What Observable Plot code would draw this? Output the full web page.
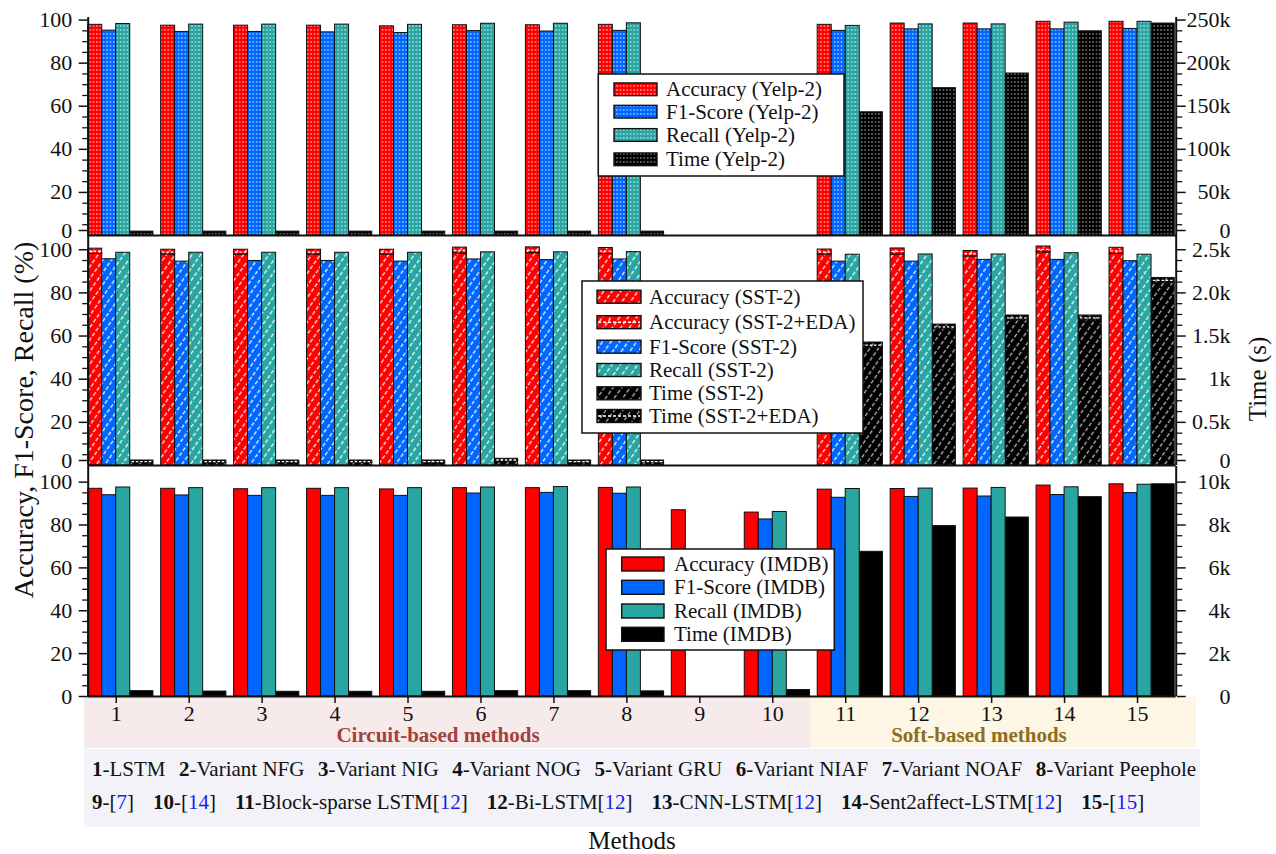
<!DOCTYPE html>
<html>
<head>
<meta charset="utf-8">
<script src="https://cdn.jsdelivr.net/npm/d3@7"></script>
<script src="https://cdn.jsdelivr.net/npm/@observablehq/plot@0.6"></script>
<style>
  body { margin: 0; background: #fff; }
  #root { position: relative; width: 1276px; height: 854px; overflow: hidden; font-family: "Liberation Serif", "Times New Roman", serif; color: #111; }
  #root > svg { position: absolute; left: 0; overflow: visible; }
</style>
</head>
<body>
<div id="root"></div>
<script>
// ---------------- DATA ----------------
const methods = [1, 2, 3, 4, 5, 6, 7, 8, 9, 10, 11, 12, 13, 14, 15];
const methodNames = ["LSTM", "Variant NFG", "Variant NIG", "Variant NOG", "Variant GRU", "Variant NIAF", "Variant NOAF", "Variant Peephole", "", "", "Block-sparse LSTM", "Bi-LSTM", "CNN-LSTM", "Sent2affect-LSTM", ""];
const methodRefs = [null, null, null, null, null, null, null, null, "7", "14", "12", "12", "12", "12", "15"];
const groupNames = ["Circuit-based methods", "Soft-based methods"];
const seriesNames = ["Accuracy", "F1-Score", "Recall", "Time"];

// Yelp-2
const yelpAccuracy = [97.8, 97.4, 97.4, 97.4, 97.1, 97.6, 97.6, 97.8, null, null, 97.8, 98.4, 98.4, 99.2, 99.2];
const yelpF1 = [95.1, 94.5, 94.5, 94.3, 94.0, 94.9, 94.7, 95.0, null, null, 95.0, 95.7, 95.7, 95.7, 95.9];
const yelpRecall = [98.2, 97.9, 97.9, 97.9, 97.8, 98.3, 98.3, 98.5, null, null, 97.3, 98.0, 98.0, 98.8, 99.2];
const yelpTime = [4500, 4500, 4500, 4500, 4500, 4500, 4500, 4500, null, null, 143000, 171000, 188000, 237000, 246000];
const yelpTimeTicks = [0, 50000, 100000, 150000, 200000, 250000];
const yelpTimeLabels = ["0", "50k", "100k", "150k", "200k", "250k"];

// SST-2 (and SST-2 + EDA)
const sstAccuracy = [98.1, 97.8, 97.8, 97.8, 97.8, 98.3, 98.4, 98.0, null, null, 97.8, 97.8, 96.9, 98.8, 98.1];
const sstAccuracyEDA = [100.5, 100.0, 100.0, 100.0, 100.0, 101.0, 101.1, 100.8, null, null, 100.1, 100.6, 99.4, 101.5, 100.9];
const sstF1 = [95.6, 94.5, 94.8, 94.8, 94.5, 95.5, 95.2, 95.5, null, null, 94.5, 94.5, 95.3, 95.3, 94.7];
const sstRecall = [98.6, 98.6, 98.6, 98.6, 98.6, 98.8, 98.8, 98.9, null, null, 97.7, 97.8, 97.8, 98.4, 97.7];
const sstTime = [30, 30, 30, 30, 30, 50, 30, 30, null, null, 1363, 1578, 1683, 1683, 2115];
const sstTimeEDA = [58, 58, 58, 58, 58, 78, 58, 58, null, null, 1425, 1633, 1738, 1738, 2173];
const sstTimeTicks = [0, 500, 1000, 1500, 2000, 2500];
const sstTimeLabels = ["0", "0.5k", "1k", "1.5k", "2.0k", "2.5k"];

// IMDB
const imdbAccuracy = [96.9, 96.9, 96.7, 96.9, 96.6, 97.2, 97.2, 97.3, 86.9, 85.8, 96.5, 96.8, 97.0, 98.4, 99.0];
const imdbF1 = [93.9, 93.8, 93.6, 93.6, 93.6, 94.7, 95.0, 94.6, null, 82.6, 92.7, 93.1, 93.3, 94.0, 94.9];
const imdbRecall = [97.5, 97.2, 97.2, 97.2, 97.2, 97.5, 97.7, 97.5, null, 86.1, 96.8, 97.0, 97.3, 97.6, 98.8];
const imdbTime = [250, 230, 220, 220, 220, 250, 250, 240, null, 300, 6750, 7950, 8350, 9300, 9900];
const imdbTimeTicks = [0, 2000, 4000, 6000, 8000, 10000];
const imdbTimeLabels = ["0", "2k", "4k", "6k", "8k", "10k"];

const leftTicks = [0, 20, 40, 60, 80, 100];

// ---------------- STYLE ----------------
const FONT = '"Liberation Serif", "Times New Roman", serif';
const INK = "#111";
const colors = {red: "#ff0000", blue: "#0066ff", teal: "#2aa6a2", black: "#000000"};
const W = 1276, xLeftPx = 87.7, xRightPx = 1175.7;
const xDomain = [0.616, 15.53];
const slots = {acc: [-0.384, -0.192], f1: [-0.192, 0.0], rec: [0.0, 0.192], time: [0.197, 0.51]};
const slotColor = {acc: "red", f1: "blue", rec: "teal", time: "black"};

const root = d3.select("#root");

// background layer: patterns + method-group bands
const bg = root.append("svg").attr("width", W).attr("height", 854).style("top", "0px");
const defs = bg.append("defs");
for (const [k, c] of Object.entries(colors)) {
  const p = defs.append("pattern").attr("id", `dot-${k}`).attr("patternUnits", "userSpaceOnUse").attr("width", 3.4).attr("height", 4);
  p.append("rect").attr("width", 3.4).attr("height", 4).attr("fill", c);
  p.append("rect").attr("x", 1).attr("y", 1.3).attr("width", 1.3).attr("height", 1.3).attr("fill", "#fff").attr("fill-opacity", k === "black" ? 0.7 : 0.85);
  const h = defs.append("pattern").attr("id", `hatch-${k}`).attr("patternUnits", "userSpaceOnUse").attr("width", 7).attr("height", 6).attr("patternTransform", "rotate(35)");
  h.append("rect").attr("width", 7).attr("height", 6).attr("fill", c);
  h.append("line").attr("x1", 3.5).attr("x2", 3.5).attr("y1", 0).attr("y2", 4)
    .attr("stroke", k === "black" ? "#c0c0c0" : "#fff").attr("stroke-opacity", 0.95).attr("stroke-width", 1.3);
}
bg.append("rect").attr("x", 84).attr("y", 697).attr("width", 726).attr("height", 51).attr("fill", "#f7eaea");
bg.append("rect").attr("x", 810).attr("y", 697).attr("width", 386).attr("height", 51).attr("fill", "#fdf6e4");
bg.append("rect").attr("x", 84).attr("y", 749).attr("width", 1116).attr("height", 78).attr("fill", "#f3f2f8");

// ---------------- PANELS ----------------
function panel(cfg) {
  const tMax = cfg.timeTicks[cfg.timeTicks.length - 1];
  const pct = t => (t == null ? null : t / tMax * 100);
  const rows = methods.map((m, i) => ({
    m,
    acc: cfg.acc[i], f1: cfg.f1[i], rec: cfg.rec[i], time: pct(cfg.time[i]),
    accEda: cfg.accEda ? cfg.accEda[i] : null,
    timeEda: cfg.timeEda ? pct(cfg.timeEda[i]) : null
  }));
  const fill = k => cfg.pattern ? `url(#${cfg.pattern}-${slotColor[k]})` : colors[slotColor[k]];
  const marks = [];
  for (const k of ["acc", "f1", "rec", "time"]) {
    const [o1, o2] = slots[k];
    marks.push(Plot.rect(rows.filter(d => d[k] != null), {
      x1: d => d.m + o1, x2: d => d.m + o2, y1: 0, y2: k,
      fill: fill(k), stroke: INK, strokeWidth: 1
    }));
    const ek = k + "Eda";
    if (rows.some(d => d[ek] != null)) {
      const er = rows.filter(d => d[ek] != null && d[k] != null);
      marks.push(Plot.rect(er, {
        x1: d => d.m + o1, x2: d => d.m + o2, y1: k, y2: ek,
        fill: fill(k), stroke: INK, strokeWidth: 1
      }));
      marks.push(Plot.ruleY(er, {
        y: d => (d[k] + d[ek]) / 2, x1: d => d.m + o1 + 0.02, x2: d => d.m + o2 - 0.02,
        stroke: "#fff", strokeWidth: 1.3, strokeDasharray: "2.5,1.8"
      }));
    }
  }
  const minor = d3.range(0, 101, 5).filter(v => v % 20 !== 0);
  const rightPos = cfg.timeTicks.map(pct);
  const lift = cfg.zeroLift || 0;
  const leftOpts = {anchor: "left", tickSize: 9, tickPadding: 7, strokeWidth: 1.5, fontSize: 22, label: null, tickFormat: d => String(d)};
  const rightOpts = {anchor: "right", tickSize: 9, tickPadding: 45.3, textAnchor: "end", strokeWidth: 1.5, fontSize: 22, label: null,
    tickFormat: d => cfg.timeLabels[rightPos.indexOf(d)]};
  marks.push(
    Plot.axisY(leftTicks.filter(v => v !== 0), leftOpts),
    Plot.axisY(leftTicks.filter(v => v === 0), {...leftOpts, dy: -lift}),
    Plot.axisY(minor, {anchor: "left", tickSize: 5.5, strokeWidth: 1.3, label: null, tickFormat: () => ""}),
    Plot.axisY(rightPos.filter(v => v !== 0), rightOpts),
    Plot.axisY(rightPos.filter(v => v === 0), {...rightOpts, dy: -lift}),
    Plot.axisY(minor, {anchor: "right", tickSize: 5.5, strokeWidth: 1.3, label: null, tickFormat: () => ""}),
    Plot.ruleX([xDomain[0], xDomain[1]], {stroke: INK, strokeWidth: 2}),
    Plot.ruleY([0], {stroke: INK, strokeWidth: 2})
  );
  if (cfg.xAxis) {
    marks.push(Plot.axisX(methods, {anchor: "bottom", tickSize: 7, tickPadding: 2, strokeWidth: 1.5, fontSize: 22, label: null, tickFormat: d => String(d)}));
  }
  const svg = Plot.plot({
    width: W, height: cfg.height,
    marginLeft: xLeftPx, marginRight: W - xRightPx, marginTop: cfg.mt, marginBottom: cfg.mb,
    x: {type: "linear", domain: xDomain, axis: null},
    y: {type: "linear", domain: [0, cfg.yMax], axis: null},
    style: {background: "transparent", overflow: "visible", fontFamily: FONT, fontSize: "22px", color: INK},
    marks
  });
  svg.style.position = "absolute";
  svg.style.top = cfg.top + "px";
  svg.style.left = "0px";
  root.node().appendChild(svg);
}

panel({top: 0, height: 240, mt: 17, mb: 5, yMax: 101.2, pattern: "dot", zeroLift: 5,
  acc: yelpAccuracy, f1: yelpF1, rec: yelpRecall, time: yelpTime,
  timeTicks: yelpTimeTicks, timeLabels: yelpTimeLabels});
panel({top: 230, height: 240, mt: 5, mb: 5, yMax: 106.6, pattern: "hatch", zeroLift: 5,
  acc: sstAccuracy, accEda: sstAccuracyEDA, f1: sstF1, rec: sstRecall, time: sstTime, timeEda: sstTimeEDA,
  timeTicks: sstTimeTicks, timeLabels: sstTimeLabels});
panel({top: 460, height: 270, mt: 6, mb: 34, yMax: 107.3, pattern: null, xAxis: true, zeroLift: 0,
  acc: imdbAccuracy, f1: imdbF1, rec: imdbRecall, time: imdbTime,
  timeTicks: imdbTimeTicks, timeLabels: imdbTimeLabels});

// ---------------- OVERLAY (legends, titles, method key) ----------------
const ov = root.append("svg").attr("width", W).attr("height", 854).style("top", "0px")
  .style("font-family", FONT).attr("fill", INK);

function legend(box, sw, textX, rows) {
  ov.append("rect").attr("x", box[0]).attr("y", box[1]).attr("width", box[2] - box[0]).attr("height", box[3] - box[1])
    .attr("fill", "#fff").attr("stroke", INK).attr("stroke-width", 1.5);
  rows.forEach(r => {
    ov.append("rect").attr("x", sw.x).attr("y", r.cy - sw.h / 2).attr("width", sw.w).attr("height", sw.h)
      .attr("fill", r.fill).attr("stroke", INK).attr("stroke-width", 1.4);
    if (r.eda) {
      ov.append("line").attr("x1", sw.x + 1).attr("x2", sw.x + sw.w - 1).attr("y1", r.cy).attr("y2", r.cy)
        .attr("stroke", "#fff").attr("stroke-width", 1.5).attr("stroke-dasharray", "3,2");
    }
    ov.append("text").attr("x", textX).attr("y", r.cy + 7).attr("font-size", 21).text(r.label);
  });
}
const yelpRowsY = [89.3, 111.7, 135, 159.3];
legend([598.3, 74, 844, 176], {x: 614, w: 43, h: 12.7}, 666,
  ["acc", "f1", "rec", "time"].map((k, i) => ({cy: yelpRowsY[i], fill: `url(#dot-${slotColor[k]})`, label: `${seriesNames[i]} (Yelp-2)`})));

const sstRows = [
  {k: "acc", name: seriesNames[0], ds: "SST-2"},
  {k: "acc", name: seriesNames[0], ds: "SST-2+EDA", eda: true},
  {k: "f1", name: seriesNames[1], ds: "SST-2"},
  {k: "rec", name: seriesNames[2], ds: "SST-2"},
  {k: "time", name: seriesNames[3], ds: "SST-2"},
  {k: "time", name: seriesNames[3], ds: "SST-2+EDA", eda: true}
];
const sstRowsY = [296.7, 322.2, 346.7, 370, 393.3, 416];
legend([582, 281, 863, 433], {x: 597, w: 44, h: 13}, 649,
  sstRows.map((r, i) => ({cy: sstRowsY[i], fill: `url(#hatch-${slotColor[r.k]})`, eda: r.eda, label: `${r.name} (${r.ds})`})));

const imdbRowsY = [564, 587.3, 611, 634.3];
legend([606, 549, 834.3, 650], {x: 621.7, w: 42.3, h: 14}, 674,
  ["acc", "f1", "rec", "time"].map((k, i) => ({cy: imdbRowsY[i], fill: colors[slotColor[k]], label: `${seriesNames[i]} (IMDB)`})));

// axis titles
ov.append("text").attr("transform", "translate(33,420) rotate(-90)").attr("text-anchor", "middle")
  .attr("font-size", 28).text("Accuracy, F1-Score, Recall (%)");
ov.append("text").attr("transform", "translate(1266,379) rotate(-90)").attr("text-anchor", "middle")
  .attr("font-size", 25).text("Time (s)");
ov.append("text").attr("x", 632).attr("y", 849).attr("text-anchor", "middle").attr("font-size", 25).text("Methods");

// group labels
const groupColors = ["#a3423c", "#8d6e1c"];
const groupCenters = [438, 979];
groupNames.forEach((g, i) => {
  ov.append("text").attr("x", groupCenters[i]).attr("y", 742).attr("text-anchor", "middle")
    .attr("font-size", 21).attr("font-weight", "bold").attr("fill", groupColors[i]).text(g);
});

// method key (two lines)
const keyLines = [{y: 776, gap: 13.5}, {y: 809, gap: 19}];
keyLines.forEach((ln, li) => {
  const t = ov.append("text").attr("x", 92).attr("y", ln.y).attr("font-size", 21);
  const items = methods.filter(m => (li === 0 ? m <= 8 : m > 8));
  items.forEach((m, j) => {
    const i = m - 1;
    t.append("tspan").attr("font-weight", "bold").attr("dx", j === 0 ? 0 : ln.gap).text(String(m));
    t.append("tspan").text("-" + methodNames[i]);
    if (methodRefs[i]) {
      t.append("tspan").text("[");
      t.append("tspan").attr("fill", "#1a1aee").text(methodRefs[i]);
      t.append("tspan").text("]");
    }
  });
});
</script>
</body>
</html>
